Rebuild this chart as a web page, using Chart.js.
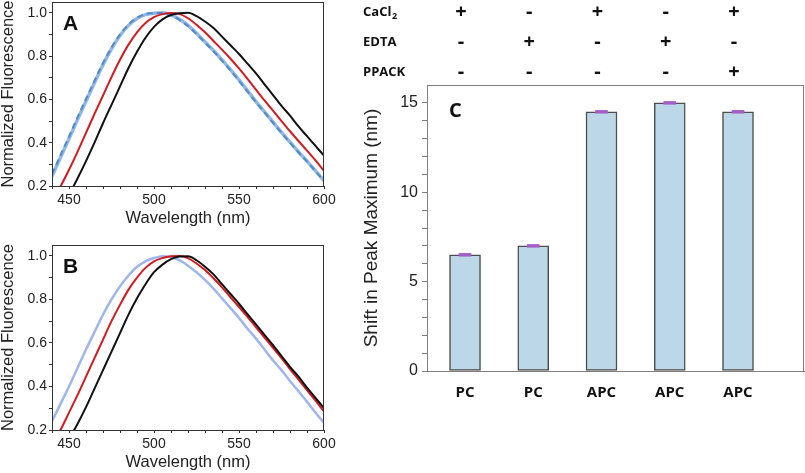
<!DOCTYPE html>
<html>
<head>
<meta charset="utf-8">
<script src="https://cdn.jsdelivr.net/npm/chart.js@4.4.1/dist/chart.umd.min.js"></script>
<style>
  html, body { margin: 0; padding: 0; background: #fff; }
  #wrap { position: relative; width: 805px; height: 473px; overflow: hidden; }
  canvas { position: absolute; }
</style>
</head>
<body>
<div id="wrap">
  <canvas id="chartA" width="340" height="230" style="left:0;top:0"></canvas>
  <canvas id="chartB" width="340" height="233" style="left:0;top:240px"></canvas>
  <canvas id="chartC" width="505" height="473" style="left:300px;top:0"></canvas>
</div>
<script>
// wavelength grid (nm) shared by panels A and B
const wavelengths = [440,445,450,455,460,465,470,475,480,485,490,495,500,505,510,515,520,
  525,530,535,540,545,550,555,560,565,570,575,580,585,590,595,600];

// panel A normalized emission spectra
const aBlack = [0.04,0.10,0.16,0.235,0.315,0.40,0.49,0.575,0.66,0.745,0.82,0.885,0.935,0.97,0.99,0.998,1.0,
  0.985,0.96,0.93,0.89,0.85,0.81,0.765,0.72,0.67,0.62,0.57,0.525,0.475,0.43,0.385,0.34];
const aRed = [0.13,0.198,0.275,0.358,0.445,0.533,0.618,0.703,0.783,0.853,0.91,0.953,0.98,0.994,0.999,0.995,0.975,
  0.945,0.91,0.87,0.83,0.788,0.743,0.695,0.645,0.595,0.548,0.50,0.453,0.408,0.363,0.318,0.27];
const aBlue = [0.245,0.332,0.418,0.507,0.592,0.677,0.76,0.833,0.895,0.942,0.974,0.992,0.998,1.0,0.99,0.97,0.942,
  0.906,0.866,0.826,0.783,0.738,0.69,0.64,0.59,0.543,0.495,0.448,0.403,0.358,0.315,0.27,0.225];
const aBlueDash = [0.255,0.342,0.428,0.517,0.602,0.686,0.768,0.84,0.90,0.946,0.977,0.994,0.999,0.999,0.988,0.967,0.939,
  0.903,0.862,0.822,0.779,0.734,0.686,0.636,0.587,0.54,0.492,0.445,0.40,0.356,0.313,0.268,0.223];

// panel B normalized emission spectra
const bBlack = [0.04,0.10,0.16,0.228,0.305,0.39,0.475,0.56,0.645,0.73,0.805,0.87,0.925,0.96,0.985,0.997,0.998,
  0.98,0.95,0.915,0.87,0.825,0.78,0.732,0.685,0.637,0.59,0.54,0.49,0.445,0.395,0.348,0.30];
const bRed = [0.13,0.20,0.28,0.36,0.445,0.53,0.615,0.70,0.775,0.845,0.90,0.945,0.975,0.99,0.998,1.0,0.99,
  0.965,0.935,0.897,0.855,0.81,0.765,0.72,0.672,0.625,0.577,0.53,0.48,0.432,0.383,0.335,0.285];
const bBlue = [0.24,0.32,0.40,0.485,0.57,0.65,0.73,0.80,0.86,0.91,0.95,0.975,0.99,0.998,0.995,0.98,0.955,
  0.925,0.89,0.85,0.805,0.76,0.715,0.665,0.62,0.57,0.52,0.475,0.425,0.378,0.33,0.28,0.232];

const nmTicks = [440,450,460,470,480,490,500,510,520,530,540,550,560,570,580,590,600];
const fluorTicks = [0.2,0.3,0.4,0.5,0.6,0.7,0.8,0.9,1.0];

// panel C
const samples = ['PC','PC','APC','APC','APC'];
const peakShift = [6.5, 7.0, 14.5, 15.0, 14.5];
const shiftErr = [0.08, 0.08, 0.08, 0.08, 0.08];
const shiftTicks = [0,1,2,3,4,5,6,7,8,9,10,11,12,13,14,15];
const conditions = [
  { name: 'CaCl', sub: '2', signs: ['+','-','+','-','+'] },
  { name: 'EDTA', sub: '', signs: ['-','+','-','+','-'] },
  { name: 'PPACK', sub: '', signs: ['-','-','-','-','+'] }
];

const sans = 'Liberation Sans';

const framePlugin = {
  id: 'panelFrame',
  afterDraw(chart, args, opts) {
    const { ctx, chartArea: a } = chart;
    ctx.save();
    ctx.strokeStyle = opts.color;
    ctx.lineWidth = 1;
    ctx.strokeRect(Math.round(a.left) + 0.5, Math.round(a.top) + 0.5,
      Math.round(a.right - a.left) - 1, Math.round(a.bottom - a.top));
    ctx.fillStyle = '#111';
    ctx.font = opts.font;
    ctx.textBaseline = 'alphabetic';
    ctx.textAlign = 'left';
    ctx.fillText(opts.letter, a.left + opts.dx, a.top + opts.dy);
    ctx.restore();
  }
};

function pts(ys) {
  return wavelengths.map((w, i) => ({ x: w, y: ys[i] }));
}

function line(ys, color, width, dash) {
  return {
    data: pts(ys), borderColor: color, borderWidth: width, borderDash: dash || [],
    pointRadius: 0, fill: false, cubicInterpolationMode: 'monotone'
  };
}

function spectrumOptions(letter) {
  return {
    responsive: false,
    animation: false,
    layout: { padding: { top: letter === 'A' ? 2 : 5, right: 16, left: 0, bottom: 0 } },
    plugins: {
      legend: { display: false },
      tooltip: { enabled: false },
      panelFrame: { letter: letter, color: '#333', font: 'bold 21px "Liberation Sans"', dx: 11, dy: 28 }
    },
    scales: {
      x: {
        type: 'linear', min: 440, max: 600,
        afterBuildTicks: s => { s.ticks = nmTicks.map(v => ({ value: v })); },
        afterFit: s => { s.height = letter === 'A' ? 44 : 43; s.paddingLeft = 0; s.paddingRight = 0; },
        ticks: {
          autoSkip: false, maxRotation: 0, padding: 3, color: '#222',
          font: { family: sans, size: 14 },
          callback: v => (v % 50 === 0 ? String(v) : '')
        },
        grid: { drawOnChartArea: false, tickLength: 3, color: '#333' },
        border: { color: '#333' },
        title: {
          display: true, text: 'Wavelength (nm)', color: '#222',
          font: { family: sans, size: 16.5, lineHeight: 1.2 },
          padding: { top: 0, bottom: letter === 'A' ? 2 : 1 }
        }
      },
      y: {
        min: 0.2, max: 1.05,
        afterBuildTicks: s => { s.ticks = fluorTicks.map(v => ({ value: v })); },
        afterFit: s => { s.width = 52; s.paddingTop = 0; s.paddingBottom = 0; },
        ticks: {
          autoSkip: false, padding: 2, color: '#222',
          font: { family: sans, size: 14 },
          callback: (v, i) => (i % 2 === 0 ? v.toFixed(1) : '')
        },
        grid: { drawOnChartArea: false, tickLength: 3, color: '#333' },
        border: { color: '#333' },
        title: {
          display: true, text: 'Normalized Fluorescence', color: '#222',
          font: { family: sans, size: 16.5, lineHeight: 1 },
          padding: { top: 0, bottom: 0 }
        }
      }
    }
  };
}

new Chart(document.getElementById('chartA'), {
  type: 'line',
  data: {
    datasets: [
      line(aBlack, '#111111', 2),
      line(aRed, '#d41a1f', 2),
      line(aBlueDash, '#4f8bcb', 2, [6, 4]),
      line(aBlue, '#93b7e4', 3.5)
    ]
  },
  options: spectrumOptions('A'),
  plugins: [framePlugin]
});

new Chart(document.getElementById('chartB'), {
  type: 'line',
  data: {
    datasets: [
      line(bBlack, '#111111', 2),
      line(bRed, '#d41a1f', 2),
      line(bBlue, '#9fb5ee', 2.5)
    ]
  },
  options: spectrumOptions('B'),
  plugins: [framePlugin]
});

const conditionPlugin = {
  id: 'conditionRows',
  afterDraw(chart) {
    const { ctx, scales: { x } } = chart;
    ctx.save();
    ctx.fillStyle = '#111';
    ctx.textBaseline = 'middle';
    conditions.forEach((row, r) => {
      const y = 12 + r * 30;
      ctx.textAlign = 'left';
      ctx.font = 'bold 13px "Open Sans"';
      ctx.fillText(row.name, 63, y);
      if (row.sub) {
        const w = ctx.measureText(row.name).width;
        ctx.font = 'bold 9px "Open Sans"';
        ctx.fillText(row.sub, 63 + w + 0.5, y + 4);
      }
      ctx.textAlign = 'center';
      ctx.font = 'bold 20px "Open Sans"';
      row.signs.forEach((s, i) => {
        ctx.fillText(s, x.getPixelForValue(i + 1) - 4, y);
      });
    });
    ctx.restore();
  }
};

new Chart(document.getElementById('chartC'), {
  type: 'bar',
  data: {
    datasets: [
      {
        data: samples.map((s, i) => ({ x: i + 1, y: [peakShift[i] - shiftErr[i], peakShift[i] + shiftErr[i]] })),
        backgroundColor: '#a45fc6', borderWidth: 0, barThickness: 12, grouped: false, order: 0
      },
      {
        data: samples.map((s, i) => ({ x: i + 1, y: peakShift[i] })),
        backgroundColor: '#bcd7e7', borderColor: '#4d4d4d', borderWidth: 1.5,
        borderSkipped: false, barThickness: 31, grouped: false, order: 1
      }
    ]
  },
  options: {
    responsive: false,
    animation: false,
    layout: { padding: { top: 85, right: 1, left: 0, bottom: 0 } },
    plugins: {
      legend: { display: false },
      tooltip: { enabled: false },
      panelFrame: { letter: 'C', color: '#808080', font: 'bold 20px "Open Sans"', dx: 22, dy: 32 }
    },
    scales: {
      x: {
        type: 'linear', min: 0.443, max: 5.967, offset: false,
        afterBuildTicks: s => { s.ticks = samples.map((c, i) => ({ value: i + 1 })); },
        afterFit: s => { s.height = 102; s.paddingLeft = 0; s.paddingRight = 0; },
        ticks: {
          autoSkip: false, maxRotation: 0, padding: 13, color: '#111',
          font: { family: 'Open Sans', weight: 'bold', size: 15 },
          callback: (v, i) => samples[i]
        },
        grid: { display: false, drawTicks: false, offset: false },
        border: { color: '#808080' }
      },
      y: {
        min: 0, max: 16,
        afterBuildTicks: s => { s.ticks = shiftTicks.map(v => ({ value: v })); },
        afterFit: s => { s.width = 127; s.paddingTop = 0; s.paddingBottom = 0; },
        ticks: {
          autoSkip: false, padding: 4, color: '#222',
          font: { family: sans, size: 16 },
          callback: v => (v % 5 === 0 ? String(v) : '')
        },
        grid: { drawOnChartArea: false, tickLength: 5, color: '#808080' },
        border: { color: '#808080' },
        title: {
          display: true, text: 'Shift in Peak Maximum (nm)', color: '#222',
          font: { family: sans, size: 19, lineHeight: 1.2 },
          padding: { top: 60, bottom: 0 }
        }
      }
    }
  },
  plugins: [framePlugin, conditionPlugin]
});
</script>
</body>
</html>
